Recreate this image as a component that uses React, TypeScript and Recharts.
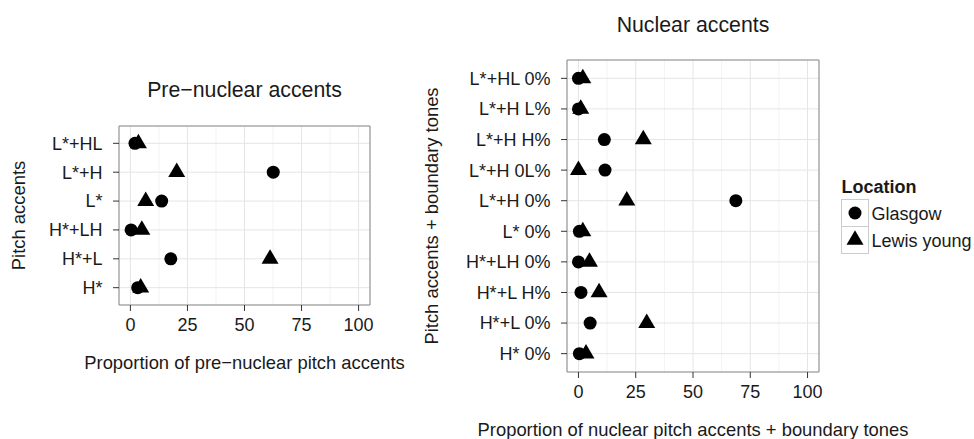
import React from 'react';
import { ScatterChart, Scatter, XAxis, YAxis, CartesianGrid, ReferenceArea } from 'recharts';

// Pre-nuclear pitch accents, listed top to bottom
const preAccents = ['L*+HL', 'L*+H', 'L*', 'H*+LH', 'H*+L', 'H*'];
const preGlasgow = [2.0, 62.6, 13.7, 0.3, 17.7, 3.2];
const preLewisYoung = [3.5, 20.3, 6.7, 5.0, 61.2, 4.5];

// Nuclear pitch accents + boundary tones, listed top to bottom
const nuclearTunes = [
  'L*+HL 0%', 'L*+H L%', 'L*+H H%', 'L*+H 0L%', 'L*+H 0%',
  'L* 0%', 'H*+LH 0%', 'H*+L H%', 'H*+L 0%', 'H* 0%',
];
const nuclearGlasgow = [0, 0, 11.3, 11.6, 68.7, 0.4, 0, 1.1, 5.1, 0.4];
const nuclearLewisYoung = [1.9, 1.0, 28.3, 0, 21.1, 1.9, 4.8, 9.0, 29.8, 3.3];

const locations = ['Glasgow', 'Lewis young'];

const majorTicks = [0, 25, 50, 75, 100];
const minorTicks = [12.5, 37.5, 62.5, 87.5];
const xDomain: [number, number] = [-5, 105];

const FONT = '"Liberation Sans", Arial, Helvetica, sans-serif';
const INK = '#1a1a1a';

type Row = { row: number; value: number };

function toRows(labels: string[], values: number[]): Row[] {
  const n = labels.length;
  return labels.map((_, i) => ({ row: n - i, value: values[i] }));
}

const DotShape = (props: any) => <circle cx={props.cx} cy={props.cy} r={6.5} fill="#000" />;

const TriangleShape = (props: any) => {
  const { cx, cy } = props;
  const w = 17;
  const h = 14.5;
  return (
    <polygon
      points={`${cx},${cy - (h * 2) / 3} ${cx + w / 2},${cy + h / 3} ${cx - w / 2},${cy + h / 3}`}
      fill="#000"
    />
  );
};

type PanelProps = {
  labels: string[];
  glasgow: number[];
  lewis: number[];
  margin: { top: number; right: number; bottom: number; left: number };
  yAxisWidth: number;
};

function Panel({ labels, glasgow, lewis, margin, yAxisWidth }: PanelProps) {
  const n = labels.length;
  const yDomain: [number, number] = [0.4, n + 0.6];
  const yTicks = labels.map((_, i) => i + 1);
  return (
    <ScatterChart width={974} height={439} margin={margin}>
      <XAxis xAxisId="minor" type="number" dataKey="value" domain={xDomain} ticks={minorTicks} allowDataOverflow hide />
      <CartesianGrid xAxisId="minor" horizontal={false} stroke="#f3f3f3" />
      <CartesianGrid stroke="#e5e5e5" />
      <XAxis
        type="number"
        dataKey="value"
        domain={xDomain}
        ticks={majorTicks}
        allowDataOverflow
        height={40}
        axisLine={false}
        tickLine={{ stroke: '#333' }}
        tickSize={6}
        tickMargin={7}
        tick={{ fontSize: 18, fill: INK, fontFamily: FONT }}
      />
      <YAxis
        type="number"
        dataKey="row"
        domain={yDomain}
        ticks={yTicks}
        allowDataOverflow
        width={yAxisWidth}
        axisLine={false}
        tickLine={{ stroke: '#333' }}
        tickSize={6}
        tickMargin={10.5}
        tickFormatter={(v: number) => labels[n - v]}
        tick={{ fontSize: 18, fill: INK, fontFamily: FONT }}
      />
      <ReferenceArea x1={xDomain[0]} x2={xDomain[1]} y1={yDomain[0]} y2={yDomain[1]} fill="none" stroke="#8c8c8c" />
      <Scatter name={locations[0]} data={toRows(labels, glasgow)} shape={DotShape} isAnimationActive={false} />
      <Scatter name={locations[1]} data={toRows(labels, lewis)} shape={TriangleShape} isAnimationActive={false} />
    </ScatterChart>
  );
}

export default function App() {
  return (
    <div
      style={{
        position: 'absolute',
        left: 0,
        top: 0,
        width: 974,
        height: 439,
        background: '#fff',
        fontFamily: FONT,
        overflow: 'hidden',
      }}
    >
      <div style={{ position: 'absolute', left: 0, top: 0 }}>
        <Panel
          labels={preAccents}
          glasgow={preGlasgow}
          lewis={preLewisYoung}
          margin={{ top: 126, right: 604, bottom: 94, left: 0 }}
          yAxisWidth={119}
        />
      </div>
      <div style={{ position: 'absolute', left: 0, top: 0 }}>
        <Panel
          labels={nuclearTunes}
          glasgow={nuclearGlasgow}
          lewis={nuclearLewisYoung}
          margin={{ top: 60, right: 155, bottom: 27, left: 0 }}
          yAxisWidth={567}
        />
      </div>
      <svg
        width={974}
        height={439}
        style={{ position: 'absolute', left: 0, top: 0, pointerEvents: 'none' }}
        fontFamily={FONT}
        fill={INK}
      >
        <text x={244.5} y={97.3} textAnchor="middle" fontSize={21.3}>Pre−nuclear accents</text>
        <text x={693} y={31.5} textAnchor="middle" fontSize={21.3}>Nuclear accents</text>
        <text x={244.5} y={369.3} textAnchor="middle" fontSize={18.4}>Proportion of pre−nuclear pitch accents</text>
        <text x={693} y={436} textAnchor="middle" fontSize={18.4}>Proportion of nuclear pitch accents + boundary tones</text>
        <text x={24.5} y={215.5} textAnchor="middle" fontSize={18.4} transform="rotate(-90 24.5 215.5)">Pitch accents</text>
        <text x={438} y={216} textAnchor="middle" fontSize={18.4} transform="rotate(-90 438 216)">Pitch accents + boundary tones</text>

        <text x={841.5} y={193} fontSize={18} fontWeight="bold">Location</text>
        <rect x={841.5} y={199.5} width={27} height={27} fill="#fff" stroke="#cccccc" />
        <rect x={841.5} y={226.5} width={27} height={27} fill="#fff" stroke="#cccccc" />
        <DotShape cx={855} cy={213} />
        <TriangleShape cx={855} cy={240} />
        <text x={871.5} y={219.5} fontSize={18}>{locations[0]}</text>
        <text x={871.5} y={246.5} fontSize={18}>{locations[1]}</text>
      </svg>
    </div>
  );
}
